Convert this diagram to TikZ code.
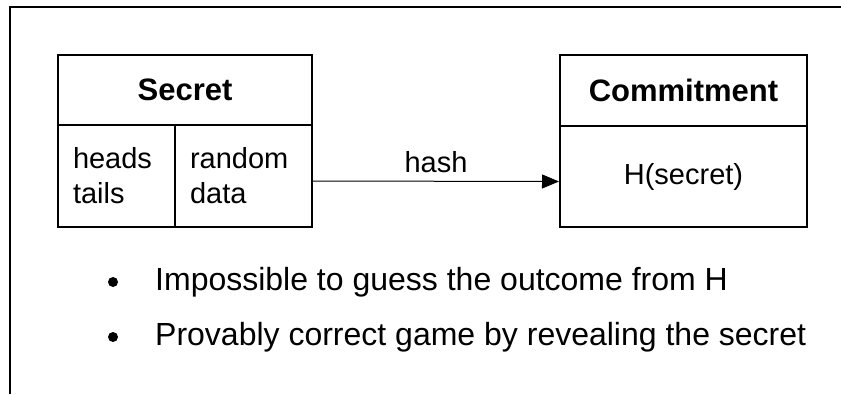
\documentclass[tikz,border=0pt]{standalone}
\usepackage{fontspec}
\setmainfont{Liberation Sans}
\usetikzlibrary{arrows.meta,calc}
\begin{document}
\begin{tikzpicture}[x=1pt,y=-1pt,
  box/.style={draw,line width=2pt,inner sep=0pt,anchor=north west},
  title/.style={box,font=\fontsize{31}{37}\selectfont\bfseries},
  cell/.style={box,font=\fontsize{29}{35}\selectfont,inner xsep=15pt,align=left},
  body/.style={box,font=\fontsize{29}{35}\selectfont},
  bul/.style={anchor=west,inner sep=0pt,font=\fontsize{32}{38}\selectfont},
  dot/.style={circle,fill,inner sep=0pt,minimum size=10pt},
  frame/.style={line width=2pt}]
\useasboundingbox (0,0) rectangle (841,394);
\draw[frame] (10,394) coordinate (fb) -- (10,7) coordinate (ftl) -- (841,7) coordinate (ftr);
% Secret
\node[title,minimum width=254pt,minimum height=70pt] (st) at (57,54) {Secret};
\node[cell,minimum width=117pt,minimum height=102pt,text width=87pt] (lc) at (57,124) {\raisebox{-3pt}{\parbox{87pt}{heads\\tails}}};
\node[cell,minimum width=137pt,minimum height=102pt,text width=107pt] (rc) at (174,124) {\raisebox{-3pt}{\parbox{107pt}{random\\data}}};
% Commitment
\node[title,minimum width=247pt,minimum height=71pt] (ct) at (559,54) {Commitment};
\node[body,minimum width=247pt,minimum height=101pt] (cb) at (559,125) {H(secret)};
% arrow
\draw[line width=1pt,-{Triangle[length=17pt,width=14pt]}] ($(rc.east)+(0,5)$) -- node[above=5pt,font=\fontsize{29}{35}\selectfont] (hl) {hash} ($(cb.west)+(0,5)$);
% bullets
\node[dot] (d1) at (113,282) {};
\node[bul] (b1) at (155,282) {Impossible to guess the outcome from H};
\node[dot] (d2) at (113,337) {};
\node[bul] (b2) at (155,337) {Provably correct game by revealing the secret};
\end{tikzpicture}
\end{document}
